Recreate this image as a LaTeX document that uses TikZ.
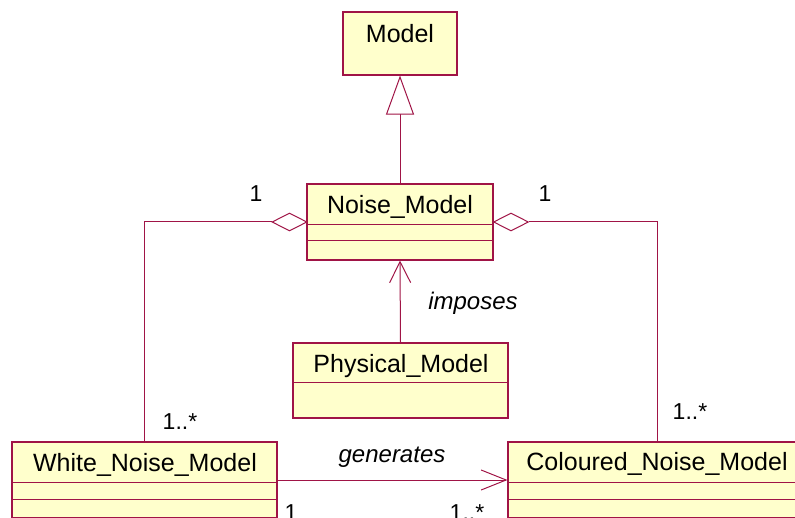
\documentclass[tikz,border=0pt]{standalone}
\usepackage{fontspec}
\setmainfont{Liberation Sans}
\usetikzlibrary{arrows.meta,shapes.geometric,calc}
\definecolor{umlline}{RGB}{160,20,70}
\definecolor{umlfill}{RGB}{255,255,204}
\begin{document}
\begin{tikzpicture}[x=1pt,y=-1pt,
 cls/.style={draw=umlline, fill=umlfill, line width=1.1pt, inner sep=0pt},
 cname/.style={anchor=base, font=\fontsize{25}{30}\selectfont, inner sep=0pt},
 mult/.style={anchor=base, font=\fontsize{23}{28}\selectfont, inner sep=0pt},
 role/.style={anchor=base, font=\fontsize{24}{29}\selectfont\itshape, inner sep=0pt},
 conn/.style={draw=umlline, line width=1pt},
 sepline/.style={draw=umlline, line width=1pt},
 agg/.style={diamond, draw=umlline, fill=white, line width=1pt, minimum width=35pt, minimum height=18pt, inner sep=0pt}]
\useasboundingbox (0,0) rectangle (795,518);
\clip (0,0) rectangle (795,518);
\fill[white] (0,0) rectangle (795,518);

% classes
\node[cls, minimum width=114pt, minimum height=63pt] (model) at (400,43.5) {};
\node[cls, minimum width=186pt, minimum height=76pt] (noise) at (400,222) {};
\node[cls, minimum width=215pt, minimum height=75pt] (phys) at (400.5,380.5) {};
\node[cls, minimum width=265pt, minimum height=76pt] (white) at (144.5,480) {};
\node[cls, minimum width=298pt, minimum height=76pt] (col) at (657,480) {};

% compartments
\draw[sepline] (307,225) -- (493,225);
\draw[sepline] (307,241) -- (493,241);
\draw[sepline] (293,383) -- (508,383);
\draw[sepline] (12,482) -- (277,482);
\draw[sepline] (12,499) -- (277,499);
\draw[sepline] (508,482) -- (806,482);
\draw[sepline] (508,499) -- (806,499);

% class names
\node[cname] (modelt) at (400,43) {Model};
\node[cname] (noiset) at (400,214) {Noise\_Model};
\node[cname] (phyt) at (401,373) {Physical\_Model};
\node[cname] (whitet) at (145,471) {White\_Noise\_Model};
\node[cname] (colt) at (657,470) {Coloured\_Noise\_Model};

% generalization
\draw[conn, -{Triangle[open, length=39pt, width=28pt, fill=white]}] (noise.north) -- (model.south);

% aggregations
\node[agg] (ldia) at (289.5,222) {};
\node[agg] (rdia) at (511,222) {};
\draw[conn] (ldia.west) -| (white.north);
\draw[conn] (rdia.east) -| (col.north);

% dependencies / associations
\draw[conn, -{Straight Barb[length=21pt, width=21pt]}] (phys.north) -- (noise.south);
\draw[conn, -{Straight Barb[length=25pt, width=20pt]}] (white.east) -- (col.west);

% labels
\node[mult] (m1) at (256,202) {1};
\node[mult] (m2) at (545,202) {1};
\node[mult] (m3) at (180,429) {1..*};
\node[mult] (m4) at (690,419) {1..*};
\node[mult] (m5) at (291,520) {1};
\node[mult] (m6) at (467,520) {1..*};
\node[role] (r1) at (473,310) {imposes};
\node[role] (r2) at (392,462) {generates};
\end{tikzpicture}
\end{document}
